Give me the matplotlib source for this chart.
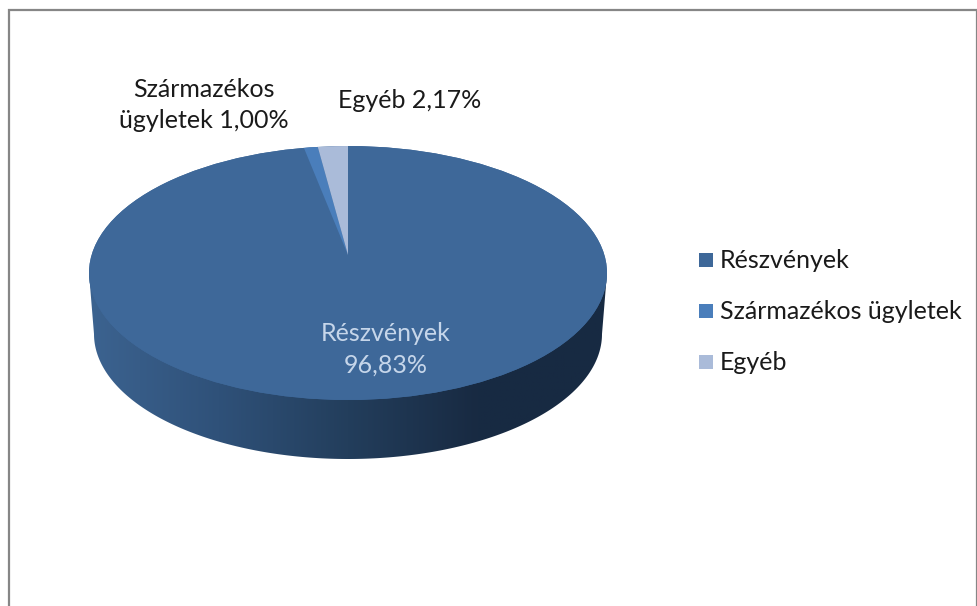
import numpy as np
import matplotlib
matplotlib.use('Agg')
import matplotlib.pyplot as plt
from matplotlib.patches import Ellipse, Polygon, Rectangle

plt.rcParams['font.family'] = ['Lato', 'DejaVu Sans']

categories = ['Részvények', 'Származékos ügyletek', 'Egyéb']
shares = [96.83, 1.00, 2.17]
colors = ['#3e6899', '#4a7ebb', '#aabbd9']

W, H = 978, 606
# pie geometry in pixels: the apex sits above the middle of the ellipse (perspective)
cx, apex_y = 348, 255
a, b = 259, 127
top_cy = 273
low_cy, low_a, low_b = 334, 254, 125

fig = plt.figure(figsize=(W / 100, H / 100), dpi=100)
ax = fig.add_axes([0, 0, 1, 1])


def to_x(px):
    return (px - cx) / a


def to_y(py):
    return (apex_y - py) / b


xlim = (to_x(0), to_x(W))
ylim = (to_y(H), to_y(0))

# side of the disc
t = np.linspace(np.pi, 2 * np.pi, 200)
rim_x = np.concatenate([[to_x(cx - a)], to_x(cx + low_a * np.cos(t)), [to_x(cx + a)]])
rim_y = np.concatenate([[to_y(top_cy)], to_y(low_cy - low_b * np.sin(t)), [to_y(top_cy)]])
rim = Polygon(np.column_stack([rim_x, rim_y]), closed=True, fc='none', ec='none')
ax.add_patch(rim)
ramp = matplotlib.colors.LinearSegmentedColormap.from_list(
    'rim', ['#3c6390', '#2f5179', '#233e5c', '#182a42', '#172a42'])
grad = ax.imshow(np.linspace(0, 1, 256).reshape(1, -1), cmap=ramp, aspect='auto',
                 extent=(to_x(cx - a), to_x(cx + a), to_y(low_cy + low_b + 2), to_y(top_cy - 2)),
                 zorder=1)
grad.set_clip_path(rim)

# top of the disc, wedges are cut by the ellipse
top = Ellipse((0, to_y(top_cy)), 2, 2, fc=colors[0], ec='none', zorder=2)
ax.add_patch(top)
wedges, _ = ax.pie(shares, colors=colors, startangle=90, counterclock=False,
                   radius=1.35, wedgeprops=dict(linewidth=0, zorder=3))
for w in wedges:
    # pie turns clipping off on its wedges
    w.set_clip_on(True)
    w.set_clip_path(top)

ax.set_aspect('auto')
ax.set_xlim(*xlim)
ax.set_ylim(*ylim)
ax.axis('off')

# chart frame
fig.add_artist(Rectangle((9 / W, -0.05), (977 - 9) / W, 1.05 - 10 / H, transform=fig.transFigure,
                         fc='none', ec='#868686', lw=1.6))

LABEL_SIZE = 18


def pct(v):
    return f'{v:.2f}%'.replace('.', ',')


def label(px, py, s, color='#1a1a1a'):
    fig.text(px / W, 1 - py / H, s, ha='center', va='center', color=color,
             fontsize=LABEL_SIZE, linespacing=1.45)


label(386, 349, f'{categories[0]}\n{pct(shares[0])}', '#c6d6ea')
label(204, 105, f'Származékos\nügyletek {pct(shares[1])}')
label(410, 101, f'{categories[2]} {pct(shares[2])}')

# legend
leg_y = [260, 311, 362]
for name, col, py in zip(categories, colors, leg_y):
    fig.add_artist(Rectangle((699 / W, 1 - (py + 7) / H), 14 / W, 14 / H,
                             transform=fig.transFigure, fc=col, ec='none'))
    fig.text(720 / W, 1 - py / H, name, ha='left', va='center', color='#1a1a1a',
             fontsize=LABEL_SIZE)

fig.savefig('out.png', dpi=100)
